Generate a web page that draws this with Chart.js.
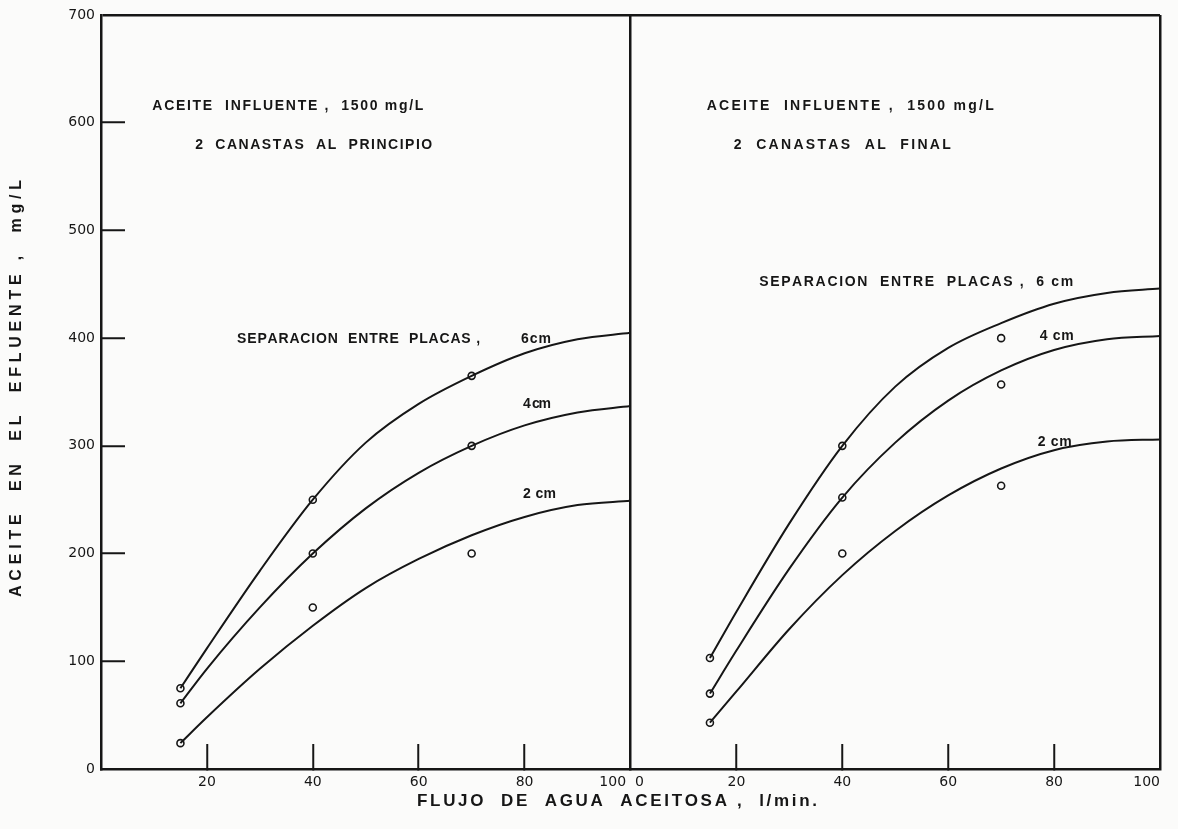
<!DOCTYPE html>
<html>
<head>
<meta charset="utf-8">
<script src="https://cdn.jsdelivr.net/npm/chart.js@4.4.1/dist/chart.umd.min.js"></script>
<style>
  html, body { margin: 0; padding: 0; background: #fbfbfa; }
  #canCon { position: relative; width: 1178px; height: 829px; }
</style>
</head>
<body>
<div id="canCon"><canvas id="myChart" width="1178" height="829"></canvas></div>
<script>
// flujo de agua aceitosa, l/min
const flowPoints = [15, 40, 70];
const flowCurve = [15, 20, 30, 40, 50, 60, 70, 80, 90, 100];
const xTicks = [0, 20, 40, 60, 80, 100];
const yTicks = [0, 100, 200, 300, 400, 500, 600, 700];

// 2 canastas al principio (izquierda) - mediciones, mg/L
const ptsL6 = [75, 250, 365];
const ptsL4 = [61, 200, 300];
const ptsL2 = [24, 150, 200];
// curvas trazadas a mano
const curveL6 = [75, 112, 184, 250, 303, 339, 365, 386, 399, 405];
const curveL4 = [61, 93, 150, 200, 242, 275, 300, 319, 331, 337];
const curveL2 = [24, 48, 93, 133, 168, 195, 217, 234, 245, 249];

// 2 canastas al final (derecha)
const ptsR6 = [103, 300, 400];
const ptsR4 = [70, 252, 357];
const ptsR2 = [43, 200, 263];
const curveR6 = [103, 146, 228, 300, 355, 391, 414, 432, 442, 446];
const curveR4 = [70, 110, 186, 252, 303, 342, 370, 389, 399, 402];
const curveR2 = [43, 72, 130, 180, 221, 254, 279, 296, 304, 306];

const ink = '#161616';

function pairs(xs, ys) {
    return xs.map(function (x, i) { return { x: x, y: ys[i] }; });
}
function curve(ys, axis) {
    return {
        data: pairs(flowCurve, ys), xAxisID: axis, yAxisID: 'y',
        borderColor: ink, borderWidth: 2, pointRadius: 0,
        cubicInterpolationMode: 'monotone', fill: false
    };
}
function marks(ys, axis) {
    return {
        data: pairs(flowPoints, ys), xAxisID: axis, yAxisID: 'y',
        showLine: false, pointRadius: 3.5, pointBorderWidth: 1.6,
        pointBorderColor: ink, pointBackgroundColor: 'rgba(0,0,0,0)'
    };
}

// textos rotulados (posicion en unidades del grafico)
const notes = [
    { axis: 'x1', x: 9.7, y: 615, w: 271, text: 'ACEITE  INFLUENTE ,  1500 mg/L' },
    { axis: 'x1', x: 17.8, y: 579, w: 237, text: '2  CANASTAS  AL  PRINCIPIO' },
    { axis: 'x1', x: 25.7, y: 399, w: 243, text: 'SEPARACION  ENTRE  PLACAS ,' },
    { axis: 'x1', x: 79.3, y: 399, w: 30, text: '6cm' },
    { axis: 'x1', x: 79.7, y: 339, w: 28, text: '4 cm' },
    { axis: 'x1', x: 79.7, y: 255, w: 33, text: '2 cm' },
    { axis: 'x2', x: 14.4, y: 615, w: 287, text: 'ACEITE  INFLUENTE ,  1500 mg/L' },
    { axis: 'x2', x: 19.5, y: 579, w: 217, text: '2  CANASTAS  AL  FINAL' },
    { axis: 'x2', x: 24.3, y: 452, w: 314, text: 'SEPARACION  ENTRE  PLACAS ,  6 cm' },
    { axis: 'x2', x: 77.3, y: 402, w: 34, text: '4 cm' },
    { axis: 'x2', x: 76.9, y: 303, w: 34, text: '2 cm' }
];

function spacedText(ctx, text, x, y, width) {
    let chars = Array.from(text);
    let widths = chars.map(function (c) { return ctx.measureText(c).width; });
    let total = widths.reduce(function (a, b) { return a + b; }, 0);
    let gap = chars.length > 1 ? (width - total) / (chars.length - 1) : 0;
    let cx = x;
    for (let i = 0; i < chars.length; i++) {
        ctx.fillText(chars[i], cx, y);
        cx += widths[i] + gap;
    }
}

const lettering = {
    id: 'lettering',
    afterDraw: function (chart) {
        const ctx = chart.ctx;
        const ys = chart.scales.y;
        ctx.save();
        ctx.fillStyle = ink;
        ctx.textAlign = 'left';
        ctx.textBaseline = 'middle';
        ctx.font = 'bold 14px "Liberation Sans", Arial, sans-serif';
        notes.forEach(function (n) {
            const xs = chart.scales[n.axis];
            spacedText(ctx, n.text, xs.getPixelForValue(n.x), ys.getPixelForValue(n.y), n.w);
        });
        // titulo eje x
        ctx.font = 'bold 17px "Liberation Sans", Arial, sans-serif';
        spacedText(ctx, 'FLUJO  DE  AGUA  ACEITOSA ,  l/min.', 417, 801, 400);
        // titulo eje y
        ctx.font = 'bold 16px "Liberation Sans", Arial, sans-serif';
        ctx.translate(17, 597);
        ctx.rotate(-Math.PI / 2);
        spacedText(ctx, 'ACEITE  EN  EL  EFLUENTE ,  mg/L', 0, 0, 417);
        ctx.restore();
    }
};

function xScale(first) {
    return {
        type: 'linear', position: 'bottom', stack: 'flujo', stackWeight: 1,
        min: 0, max: 100,
        afterBuildTicks: function (s) { s.ticks = xTicks.map(function (v) { return { value: v }; }); },
        ticks: {
            align: 'inner', autoSkip: false, maxRotation: 0, padding: 30, color: ink,
            font: { family: 'DejaVu Sans', size: 14 },
            callback: function (v) {
                if (first && v === 0) return '';
                if (first && v === 100) return '100 ';
                if (!first && v === 0) return ' 0';
                return String(v);
            }
        },
        grid: {
            drawOnChartArea: true, lineWidth: 2.5,
            color: function (c) { return (!first && (c.tick.value === 0 || c.tick.value === 100)) ? ink : 'rgba(0,0,0,0)'; },
            tickLength: -25, tickWidth: 2,
            tickColor: function (c) { return (c.tick.value > 0 && c.tick.value < 100) ? ink : 'rgba(0,0,0,0)'; }
        },
        border: { color: ink, width: 2.5 },
        afterFit: function (s) {
            s.height = 60;
            s.paddingLeft = 0;
            s.paddingRight = 0;
        }
    };
}

let myChart = new Chart('myChart', {
    type: 'line',
    data: {
        datasets: [
            curve(curveL6, 'x1'), curve(curveL4, 'x1'), curve(curveL2, 'x1'),
            curve(curveR6, 'x2'), curve(curveR4, 'x2'), curve(curveR2, 'x2'),
            marks(ptsL6, 'x1'), marks(ptsL4, 'x1'), marks(ptsL2, 'x1'),
            marks(ptsR6, 'x2'), marks(ptsR4, 'x2'), marks(ptsR2, 'x2')
        ]
    },
    options: {
        responsive: false,
        animation: false,
        layout: { padding: { top: 15, right: 18, bottom: 0, left: 0 } },
        plugins: { legend: { display: false }, tooltip: { enabled: false } },
        scales: {
            x1: xScale(true),
            x2: xScale(false),
            y: {
                type: 'linear', position: 'left', min: 0, max: 700,
                afterBuildTicks: function (s) { s.ticks = yTicks.map(function (v) { return { value: v }; }); },
                ticks: { padding: 30, color: ink, font: { family: 'DejaVu Sans', size: 14 } },
                grid: {
                    drawOnChartArea: true, lineWidth: 2.5,
                    color: function (c) { return c.tick.value === 700 ? ink : 'rgba(0,0,0,0)'; },
                    tickLength: -24, tickWidth: 2,
                    tickColor: function (c) { return (c.tick.value > 0 && c.tick.value < 700) ? ink : 'rgba(0,0,0,0)'; }
                },
                border: { color: ink, width: 2.5 },
                afterFit: function (s) {
                    s.width = 101;
                    s.paddingTop = 0;
                    s.paddingBottom = 0;
                }
            }
        }
    },
    plugins: [lettering]
});
</script>
</body>
</html>
